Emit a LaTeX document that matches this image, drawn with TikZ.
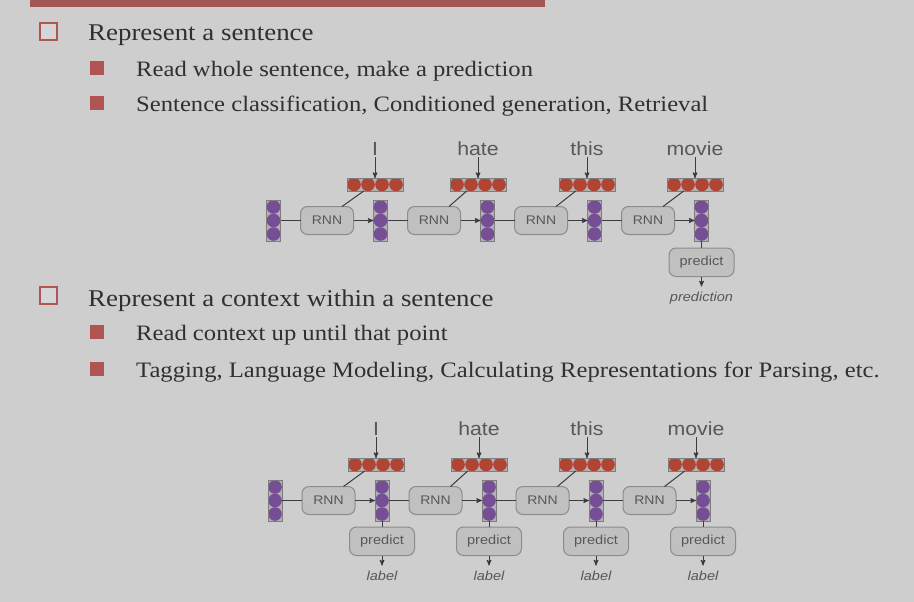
\documentclass[tikz,border=0pt]{standalone}
\usepackage{fontspec}
\setmainfont{Liberation Serif}[FakeStretch=1.12]
\setsansfont{Liberation Sans}[FakeStretch=1.12]
\usetikzlibrary{arrows}
\usetikzlibrary{positioning}

\definecolor{bggray}{RGB}{206,206,206}
\definecolor{barred}{RGB}{163,86,86}
\definecolor{bulred}{RGB}{176,84,84}
\definecolor{maintext}{RGB}{48,48,48}
\definecolor{dtext}{RGB}{88,88,88}
\definecolor{boxfill}{RGB}{192,192,192}
\definecolor{boxline}{RGB}{140,140,140}
\definecolor{vecfill}{RGB}{178,178,178}
\definecolor{vecline}{RGB}{125,125,125}
\definecolor{hpurple}{RGB}{118,78,150}
\definecolor{ered}{RGB}{178,68,52}
\definecolor{wire}{RGB}{60,60,60}

\begin{document}
\begin{tikzpicture}[x=1pt,y=-1pt,>=stealth',font=\sffamily]
	\tikzstyle{hvec}=[draw=vecline,fill=vecfill,inner sep=0,outer sep=0,minimum width=14pt,minimum height=41pt,
		path picture={
			\fill[hpurple] (path picture bounding box.center) circle (6.8pt);
			\fill[hpurple] ([yshift=13.5pt]path picture bounding box.center) circle (6.8pt);
			\fill[hpurple] ([yshift=-13.5pt]path picture bounding box.center) circle (6.8pt);}]
	\tikzstyle{emb}=[draw=vecline,fill=vecfill,inner sep=0,outer sep=0,minimum width=56pt,minimum height=13pt,
		path picture={
			\fill[ered] ([xshift=-21pt]path picture bounding box.center) circle (6.8pt);
			\fill[ered] ([xshift=-7pt]path picture bounding box.center) circle (6.8pt);
			\fill[ered] ([xshift=7pt]path picture bounding box.center) circle (6.8pt);
			\fill[ered] ([xshift=21pt]path picture bounding box.center) circle (6.8pt);}]
	\tikzstyle{rnn}=[draw=boxline,fill=boxfill,line width=1pt,rounded corners=7pt,inner sep=0,outer sep=0,
		minimum width=53pt,minimum height=28pt,text=dtext,font=\sffamily\fontsize{12.5}{14}\selectfont]
	\tikzstyle{pred}=[rnn,minimum width=65pt,minimum height=28.5pt,font=\sffamily\fontsize{13}{15}\selectfont]
	\tikzstyle{word}=[inner sep=0,outer sep=0,text height=14pt,text depth=2pt,text=dtext,font=\sffamily\fontsize{19}{22}\selectfont]
	\tikzstyle{outtext}=[inner sep=0,outer sep=0,text height=15pt,text depth=2.5pt,text=dtext,font=\sffamily\itshape\fontsize{13}{15}\selectfont]
	\tikzstyle{wireline}=[draw=wire,line width=1pt]
	\tikzstyle{hollowbul}=[draw=bulred,line width=2.2pt,fill=bggray!85!white,minimum size=16.8pt,inner sep=0]
	\tikzstyle{fullbul}=[fill=bulred,minimum size=14pt,inner sep=0]
	\tikzstyle{topline}=[anchor=base west,inner sep=0,text=maintext,font=\rmfamily\fontsize{24}{28}\selectfont]
	\tikzstyle{subline}=[anchor=base west,inner sep=0,text=maintext,font=\rmfamily\fontsize{22}{26}\selectfont]
	
	\fill[bggray] (0,0) rectangle (914,602);
	\useasboundingbox (0,0) rectangle (914,602);
	\fill[barred] (30,0) rectangle (545,7);
	
	% bullets and text
	\node[hollowbul] (bul1) at (48.5,31.5) {};
	\node[topline]   (txt1) at (88,41)    {Represent a sentence};
	\node[fullbul]   (bul11) at (97,68.5) {};
	\node[subline]   (txt11) at (136,76.5) {Read whole sentence, make a prediction};
	\node[fullbul]   (bul12) at (97,103.5) {};
	\node[subline]   (txt12) at (136,112) {Sentence classification, Conditioned generation, Retrieval};
	
	\node[hollowbul] (bul2) at (48.5,295.5) {};
	\node[topline]   (txt2) at (88,306)   {Represent a context within a sentence};
	\node[fullbul]   (bul21) at (97,332)  {};
	\node[subline]   (txt21) at (136,340) {Read context up until that point};
	\node[fullbul]   (bul22) at (97,368.5) {};
	\node[subline]   (txt22) at (136,377) {Tagging, Language Modeling, Calculating Representations for Parsing, etc.};
	
	% first RNN
	\node[hvec] (hA0)   at (273.5,220.5)                {};
	\node[rnn]  (rnnA1) [right=20pt of hA0]             {RNN};
	\node[hvec] (hA1)   [right=20pt of rnnA1]           {};
	\node[rnn]  (rnnA2) [right=20pt of hA1]             {RNN};
	\node[hvec] (hA2)   [right=20pt of rnnA2]           {};
	\node[rnn]  (rnnA3) [right=20pt of hA2]             {RNN};
	\node[hvec] (hA3)   [right=20pt of rnnA3]           {};
	\node[rnn]  (rnnA4) [right=20pt of hA3]             {RNN};
	\node[hvec] (hA4)   [right=20pt of rnnA4]           {};
	\node[emb]  (eA1)   [above=9pt of hA1,xshift=-5.5pt] {};
	\node[emb]  (eA2)   [above=9pt of hA2,xshift=-9.5pt] {};
	\node[emb]  (eA3)   [above=9pt of hA3,xshift=-7.5pt] {};
	\node[emb]  (eA4)   [above=9pt of hA4,xshift=-6.5pt] {};
	\node[word] (wA1)   [above=21pt of eA1]             {I};
	\node[word] (wA2)   [above=21pt of eA2]             {hate};
	\node[word] (wA3)   [above=21pt of eA3]             {this};
	\node[word] (wA4)   [above=21pt of eA4]             {movie};
	\node[pred] (predA) [below=7pt of hA4]              {predict};
	\node[outtext] (outA) [below=10pt of predA]         {prediction};
	
	\path[wireline] (hA0) edge (rnnA1)
		(hA1) edge (rnnA2)
		(hA2) edge (rnnA3)
		(hA3) edge (rnnA4)
		(eA1.210) edge (rnnA1.43)
		(eA2.210) edge (rnnA2.43)
		(eA3.210) edge (rnnA3.43)
		(eA4.210) edge (rnnA4.43)
		(hA4) edge (predA);
	\path[wireline,->] (rnnA1) edge (hA1)
		(rnnA2) edge (hA2)
		(rnnA3) edge (hA3)
		(rnnA4) edge (hA4)
		(wA1) edge (eA1)
		(wA2) edge (eA2)
		(wA3) edge (eA3)
		(wA4) edge (eA4)
		(predA) edge (outA);
	
	% second RNN
	\node[hvec] (hB0)   at (275,500.5)                  {};
	\node[rnn]  (rnnB1) [right=20pt of hB0]             {RNN};
	\node[hvec] (hB1)   [right=20pt of rnnB1]           {};
	\node[rnn]  (rnnB2) [right=20pt of hB1]             {RNN};
	\node[hvec] (hB2)   [right=20pt of rnnB2]           {};
	\node[rnn]  (rnnB3) [right=20pt of hB2]             {RNN};
	\node[hvec] (hB3)   [right=20pt of rnnB3]           {};
	\node[rnn]  (rnnB4) [right=20pt of hB3]             {RNN};
	\node[hvec] (hB4)   [right=20pt of rnnB4]           {};
	\node[emb]  (eB1)   [above=9pt of hB1,xshift=-6pt]  {};
	\node[emb]  (eB2)   [above=9pt of hB2,xshift=-10pt] {};
	\node[emb]  (eB3)   [above=9pt of hB3,xshift=-9pt]  {};
	\node[emb]  (eB4)   [above=9pt of hB4,xshift=-7pt]  {};
	\node[word] (wB1)   [above=21pt of eB1]             {I};
	\node[word] (wB2)   [above=21pt of eB2]             {hate};
	\node[word] (wB3)   [above=21pt of eB3]             {this};
	\node[word] (wB4)   [above=21pt of eB4]             {movie};
	\node[pred] (predB1) [below=6pt of hB1]             {predict};
	\node[pred] (predB2) [below=6pt of hB2]             {predict};
	\node[pred] (predB3) [below=6pt of hB3]             {predict};
	\node[pred] (predB4) [below=6pt of hB4]             {predict};
	\node[outtext] (labB1) [below=10pt of predB1]       {label};
	\node[outtext] (labB2) [below=10pt of predB2]       {label};
	\node[outtext] (labB3) [below=10pt of predB3]       {label};
	\node[outtext] (labB4) [below=10pt of predB4]       {label};
	
	\path[wireline] (hB0) edge (rnnB1)
		(hB1) edge (rnnB2)
		(hB2) edge (rnnB3)
		(hB3) edge (rnnB4)
		(eB1.210) edge (rnnB1.43)
		(eB2.210) edge (rnnB2.43)
		(eB3.210) edge (rnnB3.43)
		(eB4.210) edge (rnnB4.43)
		(hB1) edge (predB1)
		(hB2) edge (predB2)
		(hB3) edge (predB3)
		(hB4) edge (predB4);
	\path[wireline,->] (rnnB1) edge (hB1)
		(rnnB2) edge (hB2)
		(rnnB3) edge (hB3)
		(rnnB4) edge (hB4)
		(wB1) edge (eB1)
		(wB2) edge (eB2)
		(wB3) edge (eB3)
		(wB4) edge (eB4)
		(predB1) edge (labB1)
		(predB2) edge (labB2)
		(predB3) edge (labB3)
		(predB4) edge (labB4);
\end{tikzpicture}
\end{document}
